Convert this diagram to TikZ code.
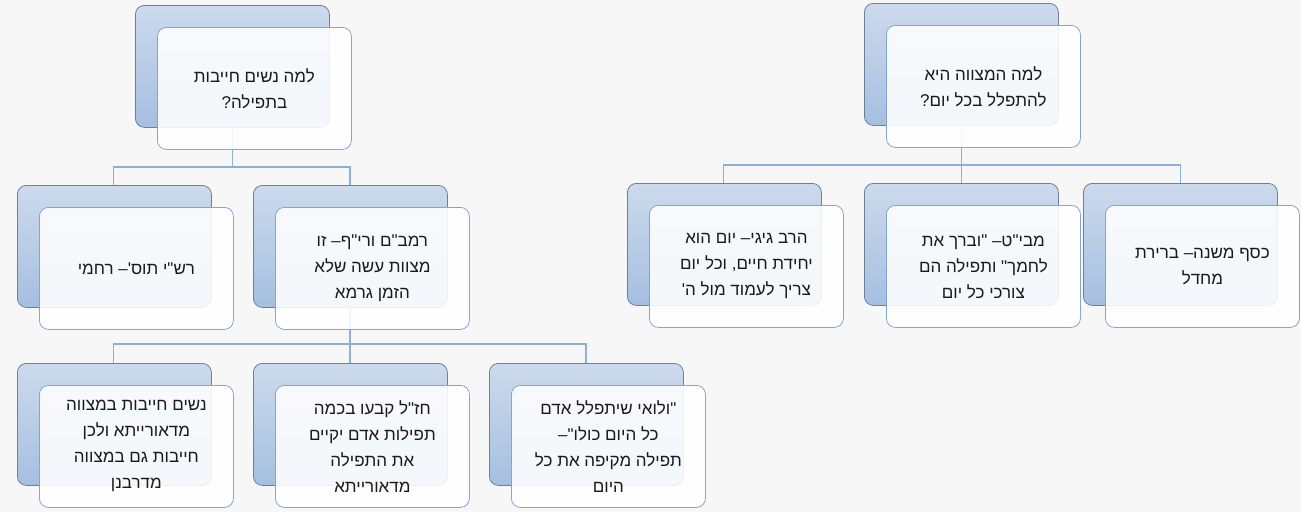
\documentclass[tikz,border=0pt]{standalone}
\usepackage{fontspec}
\newfontfamily\heb[Script=Hebrew]{Liberation Sans}
\TeXXeTstate=1
\definecolor{bg}{HTML}{F7F7F7}
\definecolor{backtop}{HTML}{CCDAEC}
\definecolor{backbot}{HTML}{A5BFE1}
\definecolor{backdraw}{HTML}{6F7F98}
\definecolor{frontdraw}{HTML}{7FA7D0}
\definecolor{conn}{HTML}{8FB0D6}
\definecolor{txt}{HTML}{1A1A1A}
\newcommand{\R}[1]{\beginR #1\endR}
\tikzset{
  x=1pt,y=-1pt,
  backbox/.style={draw=backdraw,line width=0.8pt,rounded corners=9pt,top color=backtop,bottom color=backbot,minimum width=194pt,minimum height=122pt,anchor=north west,inner sep=0pt},
  frontbox/.style={draw=frontdraw,line width=0.8pt,rounded corners=9pt,fill=white,fill opacity=0.88,text opacity=1,minimum width=194pt,minimum height=122pt,anchor=north west,inner sep=0pt},
  label/.style={text=txt,align=center,font=\heb\fontsize{17}{26}\selectfont},
  conline/.style={draw=conn,line width=1.6pt}
}
\newcommand{\pairbox}[4]{%
  \node[backbox] (#1b) at (#2,#3) {};
  \node[frontbox] (#1f) at (#2+22,#3+22) {};
  \node[label] (#1t) at (#1f.center) {#4};
}
\begin{document}
\begin{tikzpicture}
\fill[bg] (0,0) rectangle (1301,512);
\useasboundingbox (0,0) rectangle (1301,512);
% connectors (coordinates first)
\coordinate (tlb) at (232.5,127);
\coordinate (r1) at (113.5,185);
\coordinate (r2) at (350,185);
\coordinate (m1) at (350,308);
\coordinate (c1) at (113.5,363);
\coordinate (c2) at (350,363);
\coordinate (c3) at (586,363);
\coordinate (trb) at (961.5,125);
\coordinate (s1) at (723.5,183);
\coordinate (s2) at (961.5,183);
\coordinate (s3) at (1180.5,183);
\draw[conline] (tlb) -- (232.5,167) -| (r1);
\draw[conline] (232.5,167) -| (r2);
\draw[conline] (m1) -- (350,344) -| (c1);
\draw[conline] (350,344) -| (c3);
\draw[conline] (350,344) -- (c2);
\draw[conline] (trb) -- (961.5,165) -| (s1);
\draw[conline] (961.5,165) -| (s3);
\draw[conline] (961.5,165) -- (s2);
% boxes
\pairbox{a}{135}{5}{\R{למה נשים חייבות}\\\R{בתפילה?}}
\pairbox{b}{17}{185}{\R{רש"י תוס'– רחמי}}
\pairbox{c}{253}{185}{\R{רמב"ם ורי"ף– זו}\\\R{מצוות עשה שלא}\\\R{הזמן גרמא}}
\pairbox{d}{17}{363}{\R{נשים חייבות במצווה}\\\R{מדאורייתא ולכן}\\\R{חייבות גם במצווה}\\\R{מדרבנן}}
\pairbox{e}{253}{363}{\R{חז"ל קבעו בכמה}\\\R{תפילות אדם יקיים}\\\R{את התפילה}\\\R{מדאורייתא}}
\pairbox{f}{489}{363}{\R{"ולואי שיתפלל אדם}\\\R{כל היום כולו"–}\\\R{תפילה מקיפה את כל}\\\R{היום}}
\pairbox{g}{864}{3}{\R{למה המצווה היא}\\\R{להתפלל בכל יום?}}
\pairbox{h}{627}{183}{\R{הרב גיגי– יום הוא}\\\R{יחידת חיים, וכל יום}\\\R{צריך לעמוד מול ה'}}
\pairbox{i}{864}{183}{\R{מבי"ט– "וברך את}\\\R{לחמך" ותפילה הם}\\\R{צורכי כל יום}}
\pairbox{j}{1083}{183}{\R{כסף משנה– ברירת}\\\R{מחדל}}
\end{tikzpicture}
\end{document}
